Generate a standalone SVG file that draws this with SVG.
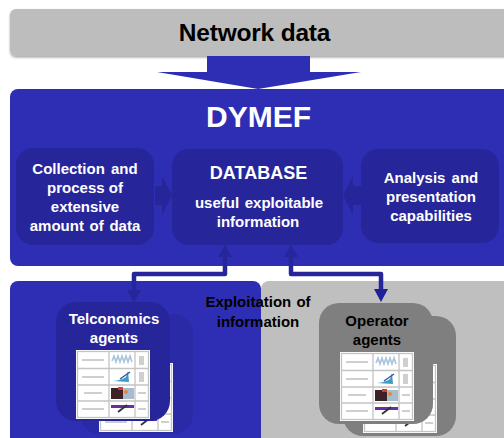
<svg xmlns="http://www.w3.org/2000/svg" xmlns:xlink="http://www.w3.org/1999/xlink" width="504" height="438" viewBox="0 0 504 438">
<style>
text{font-family:"Liberation Sans",Arial,sans-serif;font-weight:700;text-anchor:middle}
.w{fill:#fff}.k{fill:#000}
.f16{font-size:14.5px}.f15{font-size:15px}
.inner{fill:#26269a}
.blk{fill:#2c2cb0}
.conn{fill:none;stroke:#26269a;stroke-width:4.5;stroke-linejoin:round}
.head{fill:#26269a}
.grid{fill:none;stroke:#c4c4c4;stroke-width:1.3}
.t{fill:#cfcfcf}
</style>
<defs>
<filter id="sh" x="-5%" y="-10%" width="110%" height="130%"><feDropShadow dx="0" dy="1.5" stdDeviation="1.2" flood-color="#000" flood-opacity=".35"/></filter>
<filter id="soft" x="-5%" y="-5%" width="110%" height="110%"><feGaussianBlur stdDeviation=".45"/></filter>
<g id="sheet">
<rect width="74" height="69" fill="#fff"/>
<g filter="url(#soft)">
<rect x="1.5" y="1.5" width="71" height="66" class="grid"/>
<path d="M1.5 18.5H72.5M1.5 35H72.5M1.5 51H72.5M33 1.5V67.5M59 1.5V67.5" class="grid"/>
<rect x="6" y="9" width="22" height="2" class="t"/><rect x="6" y="26" width="22" height="2" class="t"/><rect x="8" y="42" width="18" height="2" class="t"/><rect x="6" y="58" width="22" height="2" class="t"/>
<path d="M36 11l2-5 2 6 2-6 2 6 2-6 2 6 2-6 2 6 2-6 2 6" fill="none" stroke="#a9c4dc" stroke-width="1.6"/>
<path d="M37 31q9-1 13-4l2-6 1 11z" fill="#3b9cc6"/><path d="M44 29l10-7" stroke="#3d4f9f" stroke-width="1.4"/>
<rect x="35" y="38" width="12" height="11" fill="#3a2326"/><rect x="47" y="38" width="11" height="11" fill="#a8bcd0"/><rect x="42" y="37" width="5" height="3" fill="#d13a3a"/><circle cx="50" cy="42" r="2" fill="#e88a2c"/>
<rect x="35" y="55" width="23" height="3" fill="#6d2aa3"/><path d="M42 62l9-7" stroke="#333" stroke-width="1.8"/>
<rect x="63" y="6" width="5" height="9" class="t"/><rect x="63" y="22" width="5" height="10" class="t"/><rect x="62" y="42" width="8" height="2" class="t"/><rect x="62" y="58" width="8" height="2" class="t"/>
</g>
</g>
</defs>

<g id="network-data">
<rect x="10" y="9" width="510" height="47" rx="6" fill="#bdbdbd" filter="url(#sh)"/>
<text x="254.500" y="41" font-size="24.500" class="k" letter-spacing="-.2">Network data</text>
</g>

<g id="dymef">
<rect x="10" y="89" width="510" height="177" rx="8" fill="#2e2eb4"/>
<text x="258.500" y="127" font-size="30" class="w">DYMEF</text>
</g>

<g id="telconomics-panel"><rect x="10" y="281" width="251" height="170" rx="8" fill="#2e2eb4"/></g>
<g id="operator-panel"><rect x="261" y="281" width="260" height="170" rx="8" fill="#bfbfbf"/></g>

<g id="big-arrow"><path d="M207 56H310V72H361L258 89L157 72H207Z" fill="#2e2eb4"/></g>

<g id="collection">
<rect x="16" y="148" width="138" height="97" rx="17" class="inner"/>
<text x="85" y="174" class="w f15" word-spacing="2">Collection and</text>
<text x="85" y="193" class="w f15">process of</text>
<text x="85" y="212" class="w f15">extensive</text>
<text x="85" y="231" class="w f15" word-spacing="1.500">amount of data</text>
</g>
<g id="database">
<rect x="172" y="149" width="171" height="96" rx="17" class="inner"/>
<text x="258.500" y="179" font-size="18" class="w">DATABASE</text>
<text x="259" y="208" class="w f15" word-spacing="1.500">useful exploitable</text>
<text x="258" y="227" class="w f15">information</text>
</g>
<g id="analysis">
<rect x="361" y="149" width="138" height="94" rx="17" class="inner"/>
<text x="431" y="183" class="w f15" word-spacing="2">Analysis and</text>
<text x="431" y="202" class="w f15">presentation</text>
<text x="431" y="221" class="w f15">capabilities</text>
</g>

<g id="connectors">
<path d="M155 186H162V176L172 195L162 215V205H155Z" fill="#26269a"/>
<path d="M361 186H353V176L343 195L353 215V205H361Z" fill="#26269a"/>
<path d="M225 256V274H134V292" class="conn"/>
<path d="M225 245L232 257H218Z M134 302L127 290H141Z" class="head"/>
<path d="M291 256V274H381V292" class="conn"/>
<path d="M291 245L298 257H284Z" class="head"/>
<path d="M381 302L374 289H388Z" fill="#1f1f99"/>
</g>

<g id="telconomics-agents">
<rect x="80" y="314" width="113" height="120" rx="20" fill="#2a2aa6"/>
<use href="#sheet" xlink:href="#sheet" x="99" y="363"/>
<rect x="56" y="302" width="114" height="119" rx="20" class="inner"/>
<use href="#sheet" xlink:href="#sheet" x="76" y="350"/>
<text x="114" y="324" class="w f15">Telconomics</text>
<text x="114" y="343" class="w f15">agents</text>
</g>

<g id="operator-agents">
<rect x="343" y="316" width="113" height="120" rx="20" fill="#7f7f7f"/>
<use href="#sheet" xlink:href="#sheet" x="363" y="364"/>
<rect x="319" y="303" width="114" height="121" rx="20" fill="#7f7f7f"/>
<use href="#sheet" xlink:href="#sheet" x="340" y="352"/>
<text x="377" y="326" class="k f15">Operator</text>
<text x="377" y="345" class="k f15">agents</text>
</g>

<g id="exploitation">
<text x="258" y="307" class="k f15" word-spacing="1">Exploitation of</text>
<text x="258" y="327" class="k f15">information</text>
</g>
</svg>
